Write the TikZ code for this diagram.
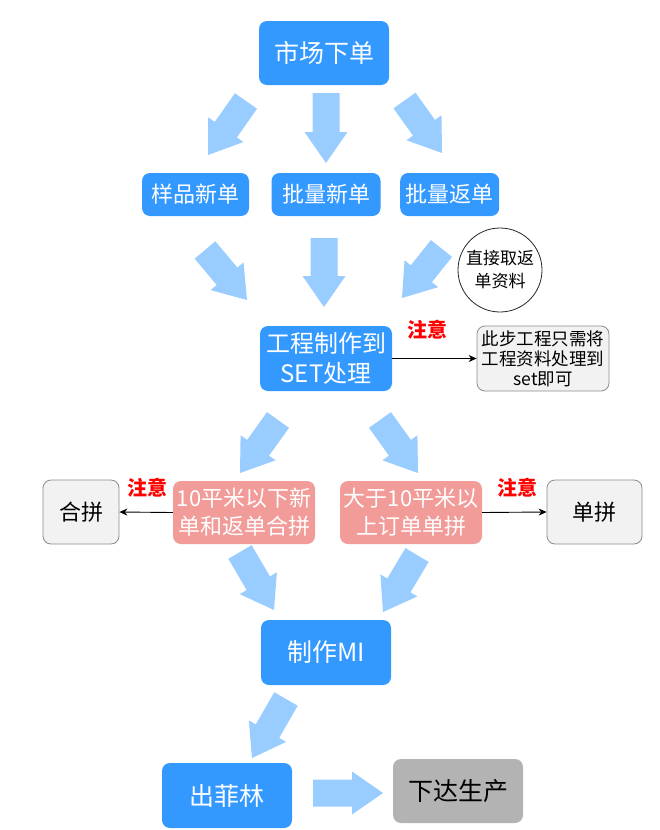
\documentclass[tikz,border=0pt]{standalone}
\usepackage{fontspec}
\setmainfont{Noto Sans CJK SC}
\usetikzlibrary{calc,arrows.meta}
\definecolor{boxblue}{HTML}{3399FF}
\definecolor{boxpink}{HTML}{F19C99}
\definecolor{arrowblue}{HTML}{99CCFF}
\definecolor{notegray}{HTML}{F2F2F2}
\definecolor{notedraw}{HTML}{8C8C8C}
\definecolor{prodgray}{HTML}{B3B3B3}
\newcommand{\fatarrow}[2]{%
  \coordinate (h) at ($(#2)!31pt!(#1)$);
  \fill[arrowblue]
    ($(#1)!13.5pt!90:(#2)$) -- ($(h)!13.5pt!90:(#2)$) -- ($(h)!21.5pt!90:(#2)$) --
    (#2) -- ($(h)!21.5pt!-90:(#2)$) -- ($(h)!13.5pt!-90:(#2)$) --
    ($(#1)!13.5pt!-90:(#2)$) -- cycle;}
\begin{document}
\begin{tikzpicture}[x=1pt,y=-1pt,
  bluebox/.style={draw=none,fill=boxblue,rounded corners=8pt,text=white,align=center,inner sep=0pt},
  pinkbox/.style={draw=none,fill=boxpink,rounded corners=8pt,text=white,align=center,inner sep=0pt,
    font=\fontsize{22}{28}\selectfont,minimum width=142pt,minimum height=63pt},
  graybox/.style={draw=notedraw,line width=0.8pt,fill=notegray,rounded corners=8pt,text=black,align=center,inner sep=0pt},
  warn/.style={text=red,font=\fontsize{20}{22}\selectfont\bfseries,inner sep=0pt},
  thin/.style={draw=black,line width=0.9pt,-{Stealth[length=8pt,width=7pt]}}]
\useasboundingbox (0,0) rectangle (660,830);
\fill[white] (0,0) rectangle (660,830);

% nodes
\node[bluebox,minimum width=130pt,minimum height=64pt,font=\fontsize{25}{30}\selectfont] (market) at (324,53) {市场下单};
\node[bluebox,minimum width=107pt,minimum height=43pt,font=\fontsize{22}{26}\selectfont] (sample) at (195.5,194.5) {样品新单};
\node[bluebox,minimum width=109pt,minimum height=43pt,font=\fontsize{22}{26}\selectfont] (batchnew) at (326,194.5) {批量新单};
\node[bluebox,minimum width=99pt,minimum height=43pt,font=\fontsize{22}{26}\selectfont] (batchret) at (449.7,194.5) {批量返单};
\node[circle,draw=black!85,line width=0.8pt,minimum size=84pt,inner sep=0pt,align=center,
  font=\fontsize{17}{23}\selectfont] (direct) at (500,270) {直接取返\\单资料};
\node[bluebox,minimum width=132pt,minimum height=65pt,font=\fontsize{24}{30}\selectfont] (setp) at (326,358.5) {工程制作到\\SET处理};
\node[graybox,minimum width=132pt,minimum height=65pt,font=\fontsize{17.5}{20}\selectfont] (note) at (543,358.5) {此步工程只需将\\工程资料处理到\\set即可};
\node[warn] (warn1) at (427,330) {注意};
\node[pinkbox] (small) at (244,512.5) {10平米以下新\\单和返单合拼};
\node[pinkbox] (large) at (411,512.5) {大于10平米以\\上订单单拼};
\node[graybox,minimum width=76pt,minimum height=64pt,font=\fontsize{22}{26}\selectfont] (merge) at (81,512) {合拼};
\node[graybox,minimum width=95pt,minimum height=64pt,font=\fontsize{22}{26}\selectfont] (single) at (594.5,512) {单拼};
\node[warn] (warn2) at (147,488) {注意};
\node[warn] (warn3) at (517,488) {注意};
\node[bluebox,minimum width=130pt,minimum height=65pt,font=\fontsize{25}{30}\selectfont] (mi) at (326,652.5) {制作MI};
\node[bluebox,minimum width=130pt,minimum height=65pt,font=\fontsize{25}{30}\selectfont] (film) at (227,795.5) {出菲林};
\node[fill=prodgray,rounded corners=8pt,inner sep=0pt,minimum width=130pt,minimum height=64pt,
  font=\fontsize{25}{30}\selectfont] (prod) at (458,791) {下达生产};

% thin connectors
\draw[thin] (setp.east) -- (note.west);
\draw[thin] (small.west) -- (merge.east);
\draw[thin] (large.east) -- (single.west);

% fat arrow end points
\coordinate (a1s) at (246,101);   \coordinate (a1e) at (208,155);
\coordinate (a2s) at (326,93);    \coordinate (a2e) at (326,163);
\coordinate (a3s) at (404.5,100.5); \coordinate (a3e) at (442,153);
\coordinate (a4s) at (205,250);   \coordinate (a4e) at (247,300);
\coordinate (a5s) at (324,238);   \coordinate (a5e) at (324,307);
\coordinate (a6s) at (441.5,248.5); \coordinate (a6e) at (402,298);
\coordinate (a7s) at (278,420);   \coordinate (a7e) at (240,473);
\coordinate (a8s) at (380,420);   \coordinate (a8e) at (418,473);
\coordinate (a9s) at (240,552);   \coordinate (a9e) at (274,610);
\coordinate (a10s) at (417,555);  \coordinate (a10e) at (383,612);
\coordinate (a11s) at (286,699);  \coordinate (a11e) at (252,758);
\coordinate (a12s) at (313,793);  \coordinate (a12e) at (383,793);

\fatarrow{a1s}{a1e}
\fatarrow{a2s}{a2e}
\fatarrow{a3s}{a3e}
\fatarrow{a4s}{a4e}
\fatarrow{a5s}{a5e}
\fatarrow{a6s}{a6e}
\fatarrow{a7s}{a7e}
\fatarrow{a8s}{a8e}
\fatarrow{a9s}{a9e}
\fatarrow{a10s}{a10e}
\fatarrow{a11s}{a11e}
\fatarrow{a12s}{a12e}
\end{tikzpicture}
\end{document}
